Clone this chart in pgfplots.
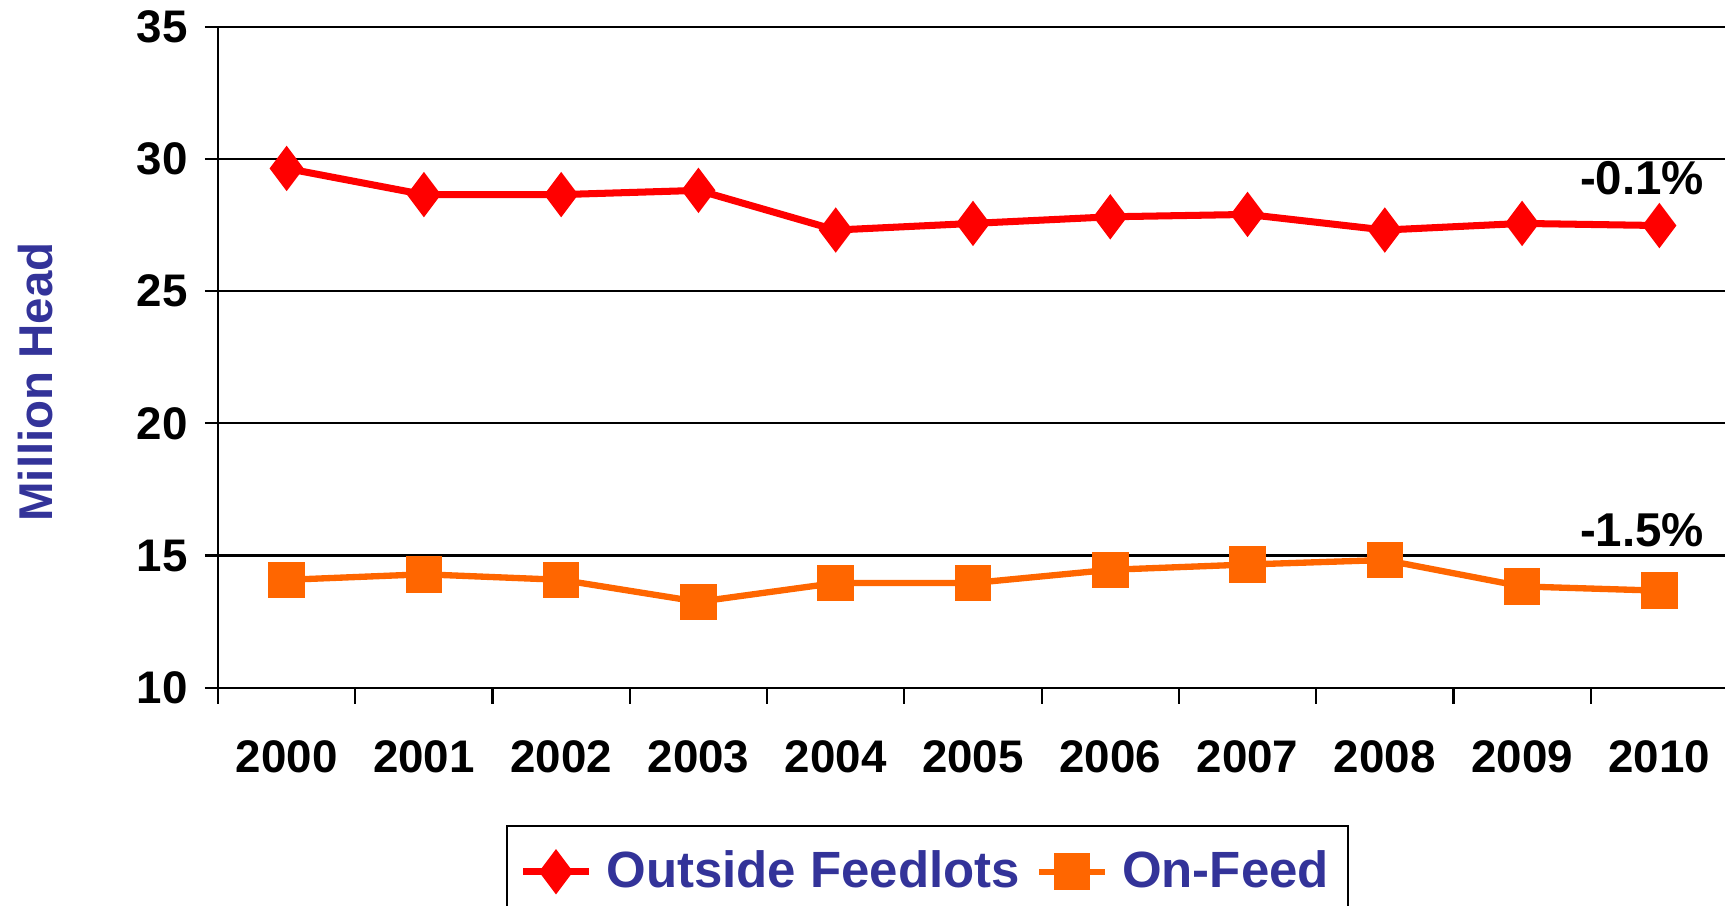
\documentclass[border=0pt]{standalone}
\usepackage{pgfplots}
\pgfplotsset{compat=1.18}
\usepackage{fontspec}
\setmainfont{Liberation Sans}
\definecolor{feedred}{HTML}{FF0000}
\definecolor{feedorange}{HTML}{FF6600}
\definecolor{labelblue}{HTML}{333399}

\begin{document}
\begin{tikzpicture}
\useasboundingbox (0,0) rectangle (17.25cm,9.05cm);
\clip (0,0) rectangle (17.25cm,9.05cm);
\begin{axis}[
  at={(2.18cm,2.173cm)}, anchor=south west,
  scale only axis, width=15.10cm, height=6.61cm,
  xmin=-0.5, xmax=10.5, ymin=10, ymax=35,
  axis x line*=bottom, axis y line*=left,
  axis line style={line width=0.6pt, -},
  tick align=outside,
  xtick={0,...,10},
  xticklabels={2000,2001,2002,2003,2004,2005,2006,2007,2008,2009,2010},
  major x tick style={draw=none},
  minor xtick={-0.5,0.5,...,10.5},
  minor tick length=0.16cm, major tick length=0.13cm,
  tick style={black, line width=0.6pt},
  ytick={10,15,...,35},
  yticklabels={10,15,20,25,30,35},
  ymajorgrids, grid style={black, line width=0.6pt},
  tick label style={font=\fontsize{13}{15}\selectfont\bfseries},
  xticklabel style={yshift=-0.27cm},
  yticklabel style={xshift=-0.05cm},
  ylabel={Million Head},
  ylabel style={at={(axis description cs:-0.121,0.4625)}, anchor=center,
    font=\fontsize{13.5}{16}\selectfont\bfseries, text=labelblue},
  legend columns=2,
  legend style={at={(0.470,-0.2077)}, anchor=north, draw=black,
    line width=0.6pt, inner xsep=3.5pt, inner ysep=5pt,
    font=\fontsize{14.5}{17}\selectfont\bfseries, text=labelblue,
    /tikz/every odd column/.append style={column sep=2pt},
    /tikz/every even column/.append style={column sep=2.5pt}},
  legend image code/.code={\draw[mark repeat=2,mark phase=2]
    plot coordinates {(0cm,0cm)(0.33cm,0cm)(0.66cm,0cm)};},
]
\addplot[feedred, line width=2pt, mark=diamond*, mark size=4.8pt]
  coordinates {(0,29.64)(1,28.65)(2,28.65)(3,28.81)(4,27.31)(5,27.56)
               (6,27.81)(7,27.90)(8,27.31)(9,27.56)(10,27.48)};
\addlegendentry{Outside Feedlots}
\addplot[feedorange, line width=1.8pt, mark=square*, mark size=4.3pt]
  coordinates {(0,14.08)(1,14.29)(2,14.08)(3,13.25)(4,13.96)(5,13.96)
               (6,14.46)(7,14.66)(8,14.83)(9,13.83)(10,13.67)};
\addlegendentry{On-Feed}
\node[anchor=east, inner sep=0pt, font=\fontsize{13.5}{15}\selectfont\bfseries]
  at (axis cs:10.33,29.28) {-0.1\%};
\node[anchor=east, inner sep=0pt, font=\fontsize{13.5}{15}\selectfont\bfseries]
  at (axis cs:10.33,15.96) {-1.5\%};
\end{axis}
\end{tikzpicture}
\end{document}
